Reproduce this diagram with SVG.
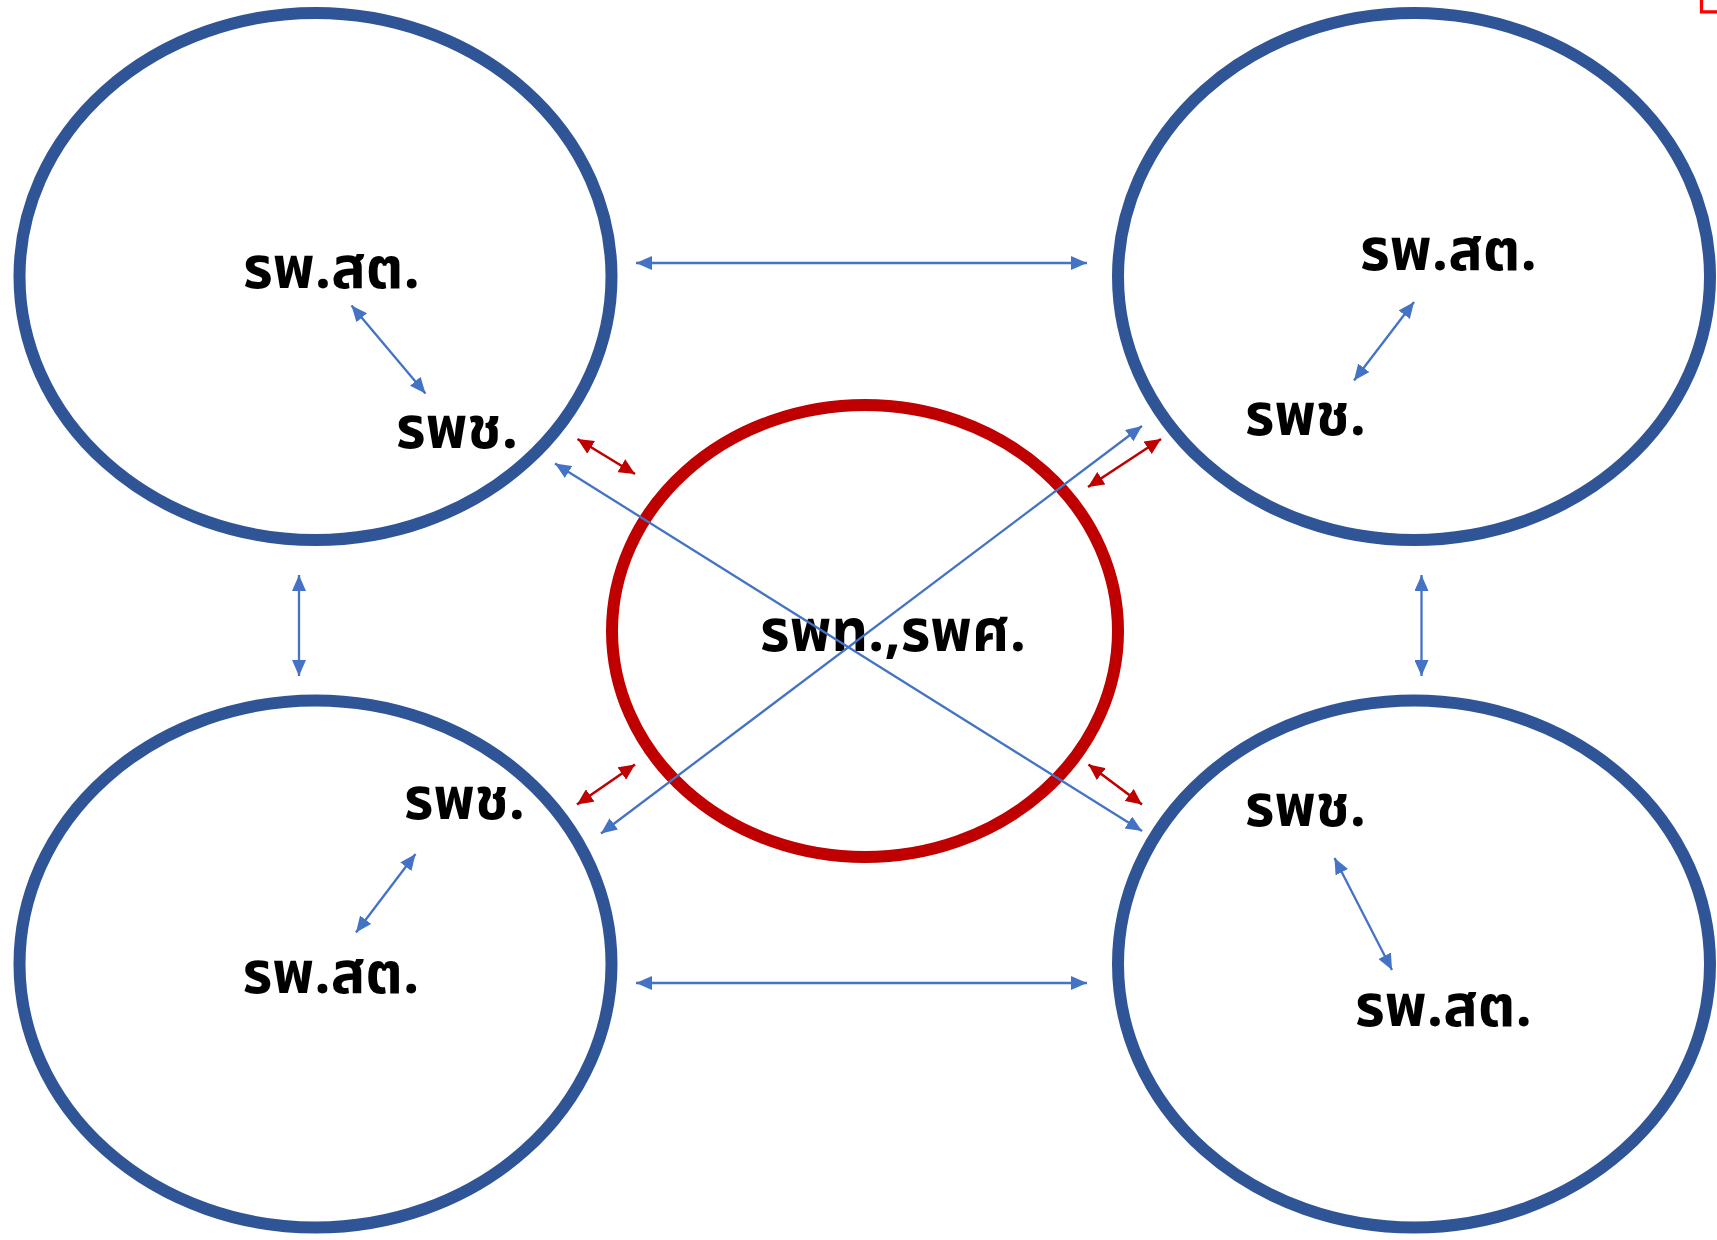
<svg xmlns="http://www.w3.org/2000/svg" width="1717" height="1240" viewBox="0 0 1717 1240">
<defs>
<style>
.zone{fill:none;stroke:#2F5597;stroke-width:12}
.core{fill:none;stroke:#C00000;stroke-width:12}
.lbl{font-family:"Noto Sans Thai","Noto Sans","DejaVu Sans",sans-serif;font-weight:bold;font-size:59px;fill:#000}
.cb{stroke:#4472C4;stroke-width:2.3;fill:none;marker-start:url(#hb);marker-end:url(#hb)}
.cr{stroke:#C00000;stroke-width:2.6;fill:none;marker-start:url(#hr);marker-end:url(#hr)}
</style>
<marker id="hb" markerUnits="userSpaceOnUse" markerWidth="16" markerHeight="14" refX="16" refY="7" orient="auto-start-reverse" viewBox="0 0 16 14">
<path d="M0,0 L16,7 L0,14 z" fill="#4472C4"/>
</marker>
<marker id="hr" markerUnits="userSpaceOnUse" markerWidth="16" markerHeight="15" refX="16" refY="7.5" orient="auto-start-reverse" viewBox="0 0 16 15">
<path d="M0,0 L16,7.5 L0,15 z" fill="#C00000"/>
</marker>
</defs>
<rect width="1717" height="1240" fill="#fff"/>
<path d="M1701.5,0 V11.8 H1717" fill="none" stroke="#FF0000" stroke-width="3.3"/>
<g id="zone-tl">
<ellipse class="zone" cx="315.5" cy="276.5" rx="296" ry="263.5"/>
<text class="lbl" x="243" y="287.5" textLength="177" lengthAdjust="spacingAndGlyphs">รพ.สต.</text>
<text class="lbl" x="396" y="448" textLength="122" lengthAdjust="spacingAndGlyphs">รพช.</text>
</g>
<g id="zone-tr">
<ellipse class="zone" cx="1414" cy="276.5" rx="296" ry="263.5"/>
<text class="lbl" x="1360" y="270" textLength="177" lengthAdjust="spacingAndGlyphs">รพ.สต.</text>
<text class="lbl" x="1245" y="435" textLength="121" lengthAdjust="spacingAndGlyphs">รพช.</text>
</g>
<g id="zone-bl">
<ellipse class="zone" cx="315.5" cy="964" rx="296" ry="263.5"/>
<text class="lbl" x="404" y="818.5" textLength="121" lengthAdjust="spacingAndGlyphs">รพช.</text>
<text class="lbl" x="242.5" y="992.5" textLength="177" lengthAdjust="spacingAndGlyphs">รพ.สต.</text>
</g>
<g id="zone-br">
<ellipse class="zone" cx="1414" cy="964" rx="296" ry="263.5"/>
<text class="lbl" x="1245" y="826" textLength="121" lengthAdjust="spacingAndGlyphs">รพช.</text>
<text class="lbl" x="1355" y="1026" textLength="177" lengthAdjust="spacingAndGlyphs">รพ.สต.</text>
</g>
<g id="core">
<ellipse class="core" cx="865" cy="631" rx="253" ry="226"/>
<text class="lbl" x="760" y="651" textLength="266" lengthAdjust="spacingAndGlyphs">รพท.,รพศ.</text>
</g>
<g id="connectors">
<line class="cb" x1="636" y1="263" x2="1087" y2="263"/>
<line class="cb" x1="636" y1="983" x2="1087" y2="983"/>
<line class="cb" x1="299" y1="575" x2="299" y2="676"/>
<line class="cb" x1="1421.5" y1="575" x2="1421.5" y2="676"/>
<line class="cb" x1="351.5" y1="305.5" x2="425.5" y2="393.5"/>
<line class="cb" x1="1414" y1="302" x2="1354" y2="380.5"/>
<line class="cb" x1="415.5" y1="854" x2="356" y2="932.5"/>
<line class="cb" x1="1334.5" y1="858" x2="1392" y2="970"/>
<line class="cb" x1="555" y1="463.5" x2="1142" y2="831"/>
<line class="cb" x1="601" y1="833.5" x2="1142" y2="426"/>
<line class="cr" x1="577.5" y1="439" x2="635" y2="474"/>
<line class="cr" x1="1161" y1="439" x2="1088" y2="487"/>
<line class="cr" x1="635" y1="764.5" x2="577" y2="804.5"/>
<line class="cr" x1="1088.5" y1="764.5" x2="1142" y2="804.5"/>
</g>
</svg>
